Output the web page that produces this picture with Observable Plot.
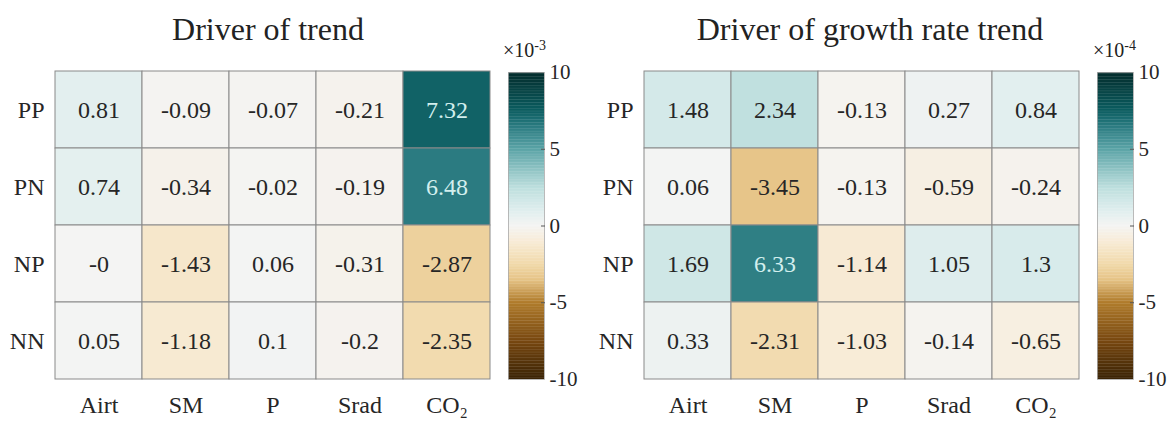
<!DOCTYPE html>
<html>
<head>
<meta charset="utf-8">
<script src="https://cdn.jsdelivr.net/npm/d3@7"></script>
<script src="https://cdn.jsdelivr.net/npm/@observablehq/plot@0.6"></script>
<style>
  html, body { margin: 0; padding: 0; background: #fff; }
  #chart { position: relative; width: 1174px; height: 421px; font-family: "Liberation Serif", "Times New Roman", serif; color: #222; overflow: hidden; }
  #chart > * { position: absolute; }
  #chart svg, #chart svg text { font-family: "Liberation Serif", "Times New Roman", serif !important; }
  .title { font-size: 32px; line-height: 32px; white-space: nowrap; transform: translateX(-50%); }
  .exp { font-size: 20px; line-height: 20px; white-space: nowrap; }
  .exp sup { font-size: 14px; vertical-align: 7px; }
</style>
</head>
<body>
<div id="chart"></div>
<script>
// ---- data ----
const drivers = ["Airt", "SM", "P", "Srad", "CO2"];
const regimes = ["PP", "PN", "NP", "NN"];
const trendValues = [
  [0.81, -0.09, -0.07, -0.21, 7.32],
  [0.74, -0.34, -0.02, -0.19, 6.48],
  [-0, -1.43, 0.06, -0.31, -2.87],
  [0.05, -1.18, 0.1, -0.2, -2.35]
];
const growthValues = [
  [1.48, 2.34, -0.13, 0.27, 0.84],
  [0.06, -3.45, -0.13, -0.59, -0.24],
  [1.69, 6.33, -1.14, 1.05, 1.3],
  [0.33, -2.31, -1.03, -0.14, -0.65]
];
const panelTitles = ["Driver of trend", "Driver of growth rate trend"];
const exponents = ["-3", "-4"];
const colorbarTicks = [10, 5, 0, -5, -10];

// ---- colour map (diverging brown / teal) ----
const colorStops = [-10, -7.5, -5, -3.5, -2.5, -1, 0, 1, 2.5, 5, 6.5, 7.5, 10];
const colorRange = ["#3a2305", "#784810", "#b07c2c", "#e6c487", "#f1d9aa", "#f8ecd8", "#f4f4f3",
                    "#dfeeee", "#bcdedd", "#5aa3a6", "#2a7a80", "#0b5d60", "#042c2c"];
const colorOpts = { type: "linear", domain: colorStops, range: colorRange, interpolate: "rgb", clamp: true };

const FONT = "Liberation Serif, Times New Roman, serif";
const fmt = v => Object.is(v, -0) ? "-0" : String(v);
const tickLabel = d => d === "CO2" ? "CO\u2082" : d;

const chart = document.getElementById("chart");

const panels = [
  { values: trendValues, svgLeft: 0, frameL: 55, frameR: 490, barL: 508, barR: 544, titleX: 268, expX: 503 },
  { values: growthValues, svgLeft: 590, frameL: 644, frameR: 1079, barL: 1097, barR: 1133, titleX: 870, expX: 1093 }
];

const H = 421, TOP = 71, BOTTOM = 379;

panels.forEach((p, i) => {
  const data = [];
  regimes.forEach((r, ri) => drivers.forEach((d, di) => data.push({ regime: r, driver: d, v: p.values[ri][di] })));

  const width = p.frameR - p.svgLeft + 6;
  const heat = Plot.plot({
    width, height: H,
    marginLeft: p.frameL - p.svgLeft, marginRight: 6, marginTop: TOP, marginBottom: H - BOTTOM,
    x: { type: "band", domain: drivers, padding: 0, axis: null },
    y: { type: "band", domain: regimes, padding: 0, axis: null },
    color: colorOpts,
    style: { fontFamily: FONT, color: "#222", background: "transparent", overflow: "visible" },
    marks: [
      Plot.cell(data, { x: "driver", y: "regime", fill: "v", stroke: "#8a8a8a", strokeWidth: 1 }),
      Plot.text(data, { x: "driver", y: "regime", text: d => fmt(d.v), fontSize: 24, fontFamily: FONT,
        fill: d => d.v > 5.5 ? "#d3efee" : "#262626" }),
      Plot.axisX({ anchor: "bottom", tickSize: 0, tickPadding: 16, fontSize: 24, fontFamily: FONT, tickFormat: tickLabel, label: null, fill: "#262626" }),
      Plot.axisY({ anchor: "left", tickSize: 0, tickPadding: 11, fontSize: 24, fontFamily: FONT, label: null, fill: "#262626" })
    ]
  });
  heat.style.left = p.svgLeft + "px";
  heat.style.top = "0px";
  chart.appendChild(heat);

  // colour bar
  const step = 0.1;
  const grad = d3.range(-10, 10, step).map(v => ({ y1: v, y2: Math.min(10, v + step + 0.02), v: v + step / 2 }));
  const bar = Plot.plot({
    width: (p.barR - p.barL) + 50, height: H,
    marginLeft: 0, marginRight: 50, marginTop: TOP + 1, marginBottom: H - BOTTOM,
    y: { type: "linear", domain: [-10, 10], axis: null },
    color: colorOpts,
    style: { fontFamily: FONT, color: "#222", background: "transparent", overflow: "visible" },
    marks: [
      Plot.rect(grad, { y1: "y1", y2: "y2", fill: "v" }),
      Plot.frame({ stroke: "#aaa", strokeWidth: 0.8 }),
      Plot.axisY(colorbarTicks.slice(1, -1), { anchor: "right", tickSize: -4, text: null, stroke: "#555" }),
      Plot.axisY(colorbarTicks, { anchor: "right", tickSize: 0, tickPadding: 5, fontSize: 21, fontFamily: FONT,
        tickFormat: d => String(d), label: null, fill: "#262626" })
    ]
  });
  bar.style.left = p.barL + "px";
  bar.style.top = "0px";
  chart.appendChild(bar);

  const t = document.createElement("div");
  t.className = "title";
  t.textContent = panelTitles[i];
  t.style.left = p.titleX + "px";
  t.style.top = "13px";
  chart.appendChild(t);

  const e = document.createElement("div");
  e.className = "exp";
  e.innerHTML = "\u00d710<sup>" + exponents[i] + "</sup>";
  e.style.left = p.expX + "px";
  e.style.top = "36px";
  chart.appendChild(e);
});
</script>
</body>
</html>
